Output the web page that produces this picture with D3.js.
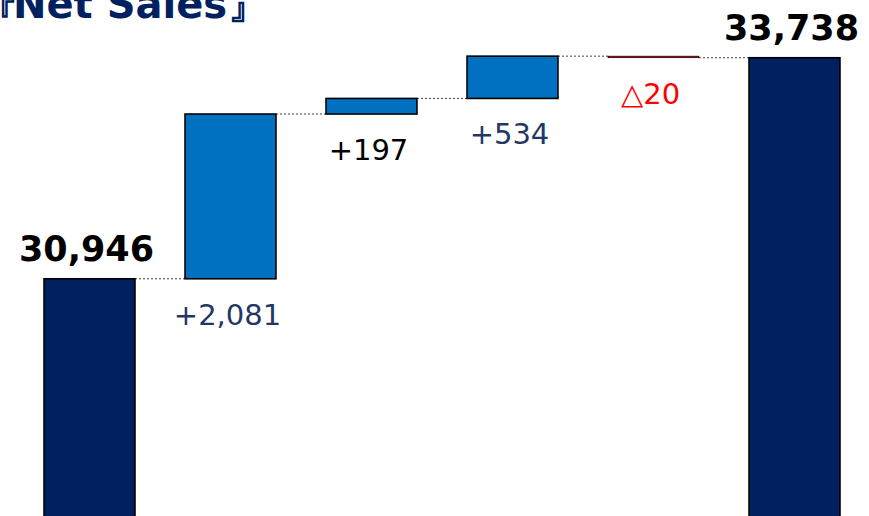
<!DOCTYPE html>
<html>
<head>
<meta charset="utf-8">
<script src="https://cdn.jsdelivr.net/npm/d3@7"></script>
<style>
  html, body { margin: 0; padding: 0; background: #ffffff; }
  svg { display: block; }
  text { font-family: "DejaVu Sans", Verdana, sans-serif; }
</style>
</head>
<body>
<svg id="chart" width="869" height="516"></svg>
<script>
// Net sales bridge: opening total, four changes, closing total
const categories = ["start", "d1", "d2", "d3", "d4", "end"];
const kinds = ["total", "delta", "delta", "delta", "delta", "total"];
const values = [30946, 2081, 197, 534, -20, 33738];
const labels = ["30,946", "+2,081", "+197", "+534", "△20", "33,738"];
const titleText = "Net Sales";
const titleOpen = "『";
const titleClose = "』";

const width = 869, height = 516;
const svg = d3.select("#chart");

const x = d3.scaleBand()
  .domain(categories)
  .range([19, 865])
  .paddingInner(0.355)
  .paddingOuter(0.1775);

const floorValue = 27900;
const y = d3.scaleLinear()
  .domain([28000, 34000])
  .range([512, 37]);

// running levels for each step
let running = 0;
const steps = categories.map((c, i) => {
  const v = values[i];
  let lo, hi, end;
  if (kinds[i] === "total") {
    lo = floorValue; hi = v; end = v; running = v;
  } else {
    const start = running;
    end = start + v;
    lo = Math.min(start, end); hi = Math.max(start, end);
    running = end;
  }
  return { cat: c, kind: kinds[i], value: v, lo, hi, end, label: labels[i] };
});

function fillFor(d) {
  if (d.kind === "total") return "#002060";
  return d.value >= 0 ? "#0070C0" : "#C00000";
}
function labelColor(d, i) {
  if (d.kind === "total") return "#000000";
  if (d.value < 0) return "#FF0000";
  return i === 2 ? "#000000" : "#1F3864";
}

// dotted connectors between consecutive bars
const conn = steps.slice(0, -1).map((d, i) => ({ from: d, to: steps[i + 1], level: d.end }));
svg.append("g").selectAll("line").data(conn).join("line")
  .attr("x1", d => x(d.from.cat) + x.bandwidth())
  .attr("x2", d => x(d.to.cat))
  .attr("y1", d => y(d.level))
  .attr("y2", d => y(d.level))
  .attr("stroke", "#404040")
  .attr("stroke-width", 1)
  .attr("stroke-dasharray", "2,2");

// bars (outline thins on very short bars so the fill stays visible)
svg.append("g").selectAll("rect").data(steps).join("rect")
  .attr("x", d => x(d.cat))
  .attr("width", x.bandwidth())
  .attr("y", d => y(d.hi))
  .attr("height", d => y(d.lo) - y(d.hi))
  .attr("fill", fillFor)
  .attr("stroke", "#000000")
  .attr("stroke-width", d => Math.min(1.6, (y(d.lo) - y(d.hi)) * 0.4));

// value labels: totals above bar, changes below bar
svg.append("g").selectAll("text").data(steps).join("text")
  .attr("x", d => x(d.cat) + x.bandwidth() / 2 - 3)
  .attr("y", d => d.kind === "total" ? y(d.hi) - 18 : y(d.lo) + 46)
  .attr("text-anchor", "middle")
  .attr("font-size", d => d.kind === "total" ? 35 : 29)
  .attr("font-weight", d => d.kind === "total" ? "bold" : "normal")
  .attr("fill", labelColor)
  .text(d => d.label);

// title, partly above the top edge
const title = svg.append("g").attr("fill", "#002060").attr("font-weight", "bold");
title.append("text")
  .attr("x", -22).attr("y", 30)
  .attr("font-size", 40)
  .text(titleOpen);
title.append("text")
  .attr("x", 13).attr("y", 18)
  .attr("font-size", 40)
  .text(titleText);
title.append("text")
  .attr("x", 228).attr("y", 18)
  .attr("font-size", 40)
  .text(titleClose);
</script>
</body>
</html>
